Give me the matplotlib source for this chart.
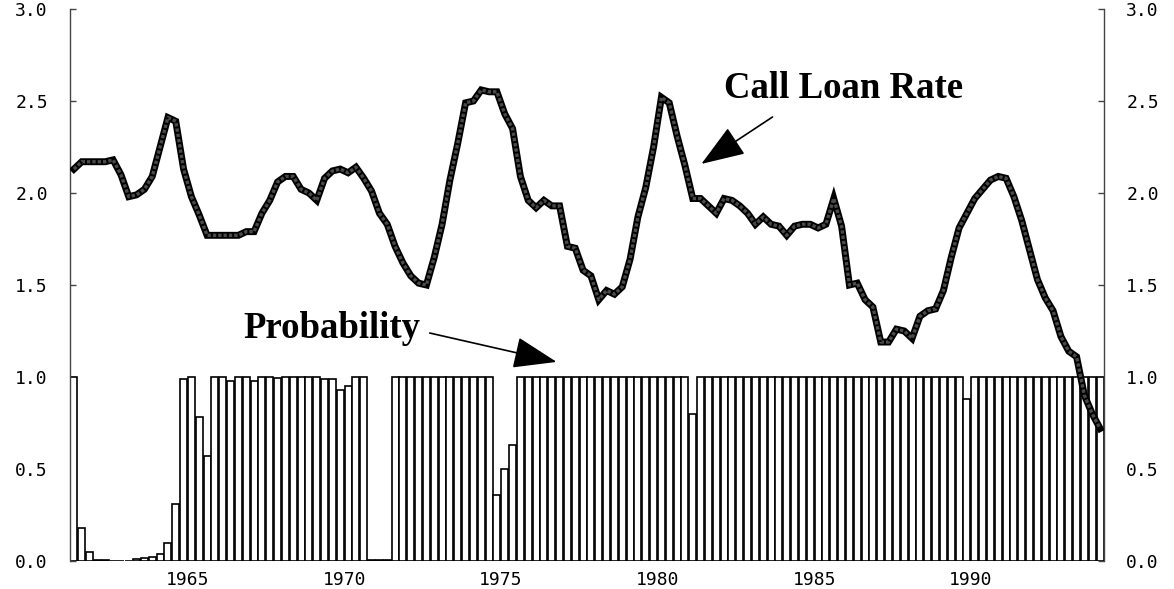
import numpy as np
import matplotlib.pyplot as plt

# quarterly observations, 1961Q2 - 1994Q1
start_year = 1961.25
n_obs = 132

# call loan rate (line)
call_loan_rate = [
    2.13, 2.17, 2.17, 2.17, 2.17, 2.18, 2.10, 1.98, 1.99, 2.02,
    2.09, 2.25, 2.41, 2.39, 2.13, 1.98, 1.88, 1.77, 1.77, 1.77,
    1.77, 1.77, 1.79, 1.79, 1.89, 1.96, 2.06, 2.09, 2.09, 2.02,
    2.00, 1.96, 2.08, 2.12, 2.13, 2.11, 2.14, 2.08, 2.01, 1.89,
    1.83, 1.71, 1.62, 1.55, 1.51, 1.50, 1.65, 1.83, 2.07, 2.27,
    2.49, 2.50, 2.56, 2.55, 2.55, 2.43, 2.35, 2.09, 1.96, 1.92,
    1.96, 1.93, 1.93, 1.71, 1.70, 1.58, 1.55, 1.42, 1.47, 1.45,
    1.49, 1.64, 1.87, 2.03, 2.25, 2.52, 2.49, 2.31, 2.15, 1.97,
    1.97, 1.93, 1.89, 1.97, 1.96, 1.93, 1.89, 1.83, 1.87, 1.83,
    1.82, 1.77, 1.82, 1.83, 1.83, 1.81, 1.83, 1.97, 1.82, 1.50,
    1.51, 1.42, 1.38, 1.19, 1.19, 1.26, 1.25, 1.21, 1.33, 1.36,
    1.37, 1.47, 1.65, 1.81, 1.89, 1.97, 2.02, 2.07, 2.09, 2.08,
    1.98, 1.85, 1.69, 1.53, 1.43, 1.36, 1.22, 1.14, 1.11, 0.90,
    0.80, 0.72,
]

# probability (bars)
probability = [
    1.00, 0.18, 0.05, 0.005, 0.003, 0.002, 0.002, 0.002, 0.01, 0.015,
    0.02, 0.04, 0.10, 0.31, 0.99, 1.00, 0.78, 0.57, 1.00, 1.00,
    0.98, 1.00, 1.00, 0.98, 1.00, 1.00, 0.995, 1.00, 1.00, 1.00,
    1.00, 1.00, 0.99, 0.99, 0.93, 0.95, 1.00, 1.00, 0.003, 0.005,
    0.005, 1.00, 1.00, 1.00, 1.00, 1.00, 1.00, 1.00, 1.00, 1.00,
    1.00, 1.00, 1.00, 1.00, 0.36, 0.50, 0.63, 1.00, 1.00, 1.00,
    1.00, 1.00, 1.00, 1.00, 1.00, 1.00, 1.00, 1.00, 1.00, 1.00,
    1.00, 1.00, 1.00, 1.00, 1.00, 1.00, 1.00, 1.00, 1.00, 0.80,
    1.00, 1.00, 1.00, 1.00, 1.00, 1.00, 1.00, 1.00, 1.00, 1.00,
    1.00, 1.00, 1.00, 1.00, 1.00, 1.00, 1.00, 1.00, 1.00, 1.00,
    1.00, 1.00, 1.00, 1.00, 1.00, 1.00, 1.00, 1.00, 1.00, 1.00,
    1.00, 1.00, 1.00, 1.00, 0.88, 1.00, 1.00, 1.00, 1.00, 1.00,
    1.00, 1.00, 1.00, 1.00, 1.00, 1.00, 1.00, 1.00, 1.00, 1.00,
    1.00, 1.00,
]

year_ticks = [1965, 1970, 1975, 1980, 1985, 1990]
value_ticks = [0.0, 0.5, 1.0, 1.5, 2.0, 2.5, 3.0]

quarters = start_year + 0.25 * np.arange(n_obs)

fig = plt.figure(figsize=(11.74, 5.89), dpi=100)
ax = fig.add_axes([70 / 1174, 1 - 561 / 589, (1104 - 70) / 1174, (561 - 9) / 589])

# bars: white with black outline
ax.bar(quarters + 0.125, probability, width=0.225, align='center',
       facecolor='white', edgecolor='black', linewidth=1.2, zorder=2)

# thick "textured" line: black outline with grey dashed core
ax.plot(quarters + 0.125, call_loan_rate, color='black', lw=5.0,
        solid_joinstyle='miter', zorder=3)
ax.plot(quarters + 0.125, call_loan_rate, color='#4a4a4a', lw=2.4,
        dashes=(1.0, 0.6), zorder=4)

ax.set_xlim(start_year, start_year + 0.25 * n_obs)
ax.set_ylim(0, 3.0)

ax.set_xticks(year_ticks)
ax.set_xticklabels([str(y) for y in year_ticks])
ax.set_yticks(value_ticks)
ax.set_yticklabels(['%.1f' % v for v in value_ticks])

ax.tick_params(axis='y', direction='in', length=4, width=1, color='#444',
               left=True, right=True, labelleft=True, labelright=True,
               labelsize=13, pad=16)
ax.tick_params(axis='x', length=0, labelsize=13, pad=7)
for lab in ax.get_xticklabels() + ax.get_yticklabels():
    lab.set_family('DejaVu Sans Mono')

for side in ['top', 'bottom']:
    ax.spines[side].set_visible(False)
for side in ['left', 'right']:
    ax.spines[side].set_color('#444')
    ax.spines[side].set_linewidth(1.0)

arrow = dict(arrowstyle='-|>,head_length=1.1,head_width=0.4',
             mutation_scale=25, color='black', lw=1.2,
             shrinkA=0, shrinkB=0)

ax.text(1985.93, 2.516, 'Call Loan Rate', family='Liberation Serif',
        weight='bold', fontsize=26.5, ha='center', va='baseline', zorder=5)
ax.annotate('', xy=(1981.40, 2.158), xytext=(1983.67, 2.413),
            arrowprops=arrow, zorder=5)

ax.text(1969.62, 1.21, 'Probability', family='Liberation Serif',
        weight='bold', fontsize=26.5, ha='center', va='baseline', zorder=5)
ax.annotate('', xy=(1976.78, 1.082), xytext=(1972.73, 1.239),
            arrowprops=arrow, zorder=5)

fig.savefig('out.png', dpi=100)
